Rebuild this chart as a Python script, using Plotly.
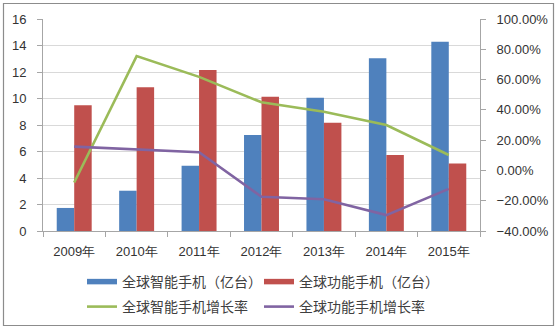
import plotly.graph_objects as go

years = ["2009年", "2010年", "2011年", "2012年", "2013年", "2014年", "2015年"]
smart_units = [1.74, 3.04, 4.93, 7.25, 10.06, 13.03, 14.29]
feature_units = [9.5, 10.85, 12.15, 10.14, 8.17, 5.74, 5.1]
smart_growth = [-0.08, 0.755, 0.618, 0.45, 0.388, 0.30, 0.102]
feature_growth = [0.157, 0.14, 0.12, -0.174, -0.19, -0.295, -0.122]

names = ["全球智能手机（亿台）", "全球功能手机（亿台）", "全球智能手机增长率", "全球功能手机增长率"]
colors = ["#4F81BD", "#C0504D", "#9BBB59", "#8064A2"]

W, H = 557, 329
L, R, T, B = 43, 480, 19, 231

def px_x(x):
    return (x - L) / (R - L)

def px_y(y):
    return (B - y) / (B - T)

fig = go.Figure()
fig.add_trace(go.Bar(x=years, y=smart_units, name=names[0], marker_color=colors[0],
                     marker_line_width=0, showlegend=False))
fig.add_trace(go.Bar(x=years, y=feature_units, name=names[1], marker_color=colors[1],
                     marker_line_width=0, showlegend=False))
fig.add_trace(go.Scatter(x=years, y=smart_growth, name=names[2], mode="lines",
                         line=dict(color=colors[2], width=2.6), yaxis="y2", showlegend=False))
fig.add_trace(go.Scatter(x=years, y=feature_growth, name=names[3], mode="lines",
                         line=dict(color=colors[3], width=2.6), yaxis="y2", showlegend=False))

# legend entries
for i in range(4):
    fig.add_trace(go.Scatter(x=[None], y=[None], mode="lines", name=names[i],
                             line=dict(color=colors[i], width=5.5 if i < 2 else 2.6),
                             legend="legend" if i < 2 else "legend2", showlegend=True))

tickfont = dict(family="Liberation Sans, Arial, sans-serif", size=13, color="#333333")
axcol = "#A6A6A6"
legfont = dict(family="Noto Sans CJK SC", size=14, color="#404040")

fig.update_layout(
    width=W, height=H,
    margin=dict(l=L, r=W - R, t=T, b=H - B, autoexpand=False),
    paper_bgcolor="white", plot_bgcolor="white",
    barmode="group", bargap=0.44, bargroupgap=0,
    xaxis=dict(type="category", showgrid=False, showline=True, linecolor=axcol,
               ticks="outside", ticklen=5, tickcolor=axcol, tickson="boundaries",
               tickfont=tickfont, ticklabelstandoff=8),
    yaxis=dict(range=[0, 16], dtick=2, showgrid=True, gridcolor="#D9D9D9",
               showline=True, linecolor=axcol, ticks="outside", ticklen=5, tickcolor=axcol,
               tickfont=tickfont, ticklabelstandoff=8, zeroline=False),
    yaxis2=dict(range=[-0.4, 1.0], dtick=0.2, tickformat=".2%", overlaying="y", side="right",
                showgrid=False, showline=True, linecolor=axcol, ticks="outside", ticklen=5,
                tickcolor=axcol, tickfont=tickfont, ticklabelstandoff=8, zeroline=False),
    legend=dict(orientation="h", x=px_x(82), xanchor="left", y=px_y(282), yanchor="middle",
                font=legfont, itemwidth=30, entrywidth=132, tracegroupgap=0,
                bgcolor="rgba(0,0,0,0)"),
    legend2=dict(orientation="h", x=px_x(82), xanchor="left", y=px_y(307), yanchor="middle",
                 font=legfont, itemwidth=30, entrywidth=132, tracegroupgap=0,
                 bgcolor="rgba(0,0,0,0)"),
    shapes=[dict(type="rect", xref="paper", yref="paper",
                 x0=px_x(3.5), x1=px_x(553.5), y0=px_y(325.5), y1=px_y(3.5),
                 line=dict(color="#8C8C8C", width=1.2), fillcolor="rgba(0,0,0,0)", layer="below")],
)

fig.write_html("out.html")
